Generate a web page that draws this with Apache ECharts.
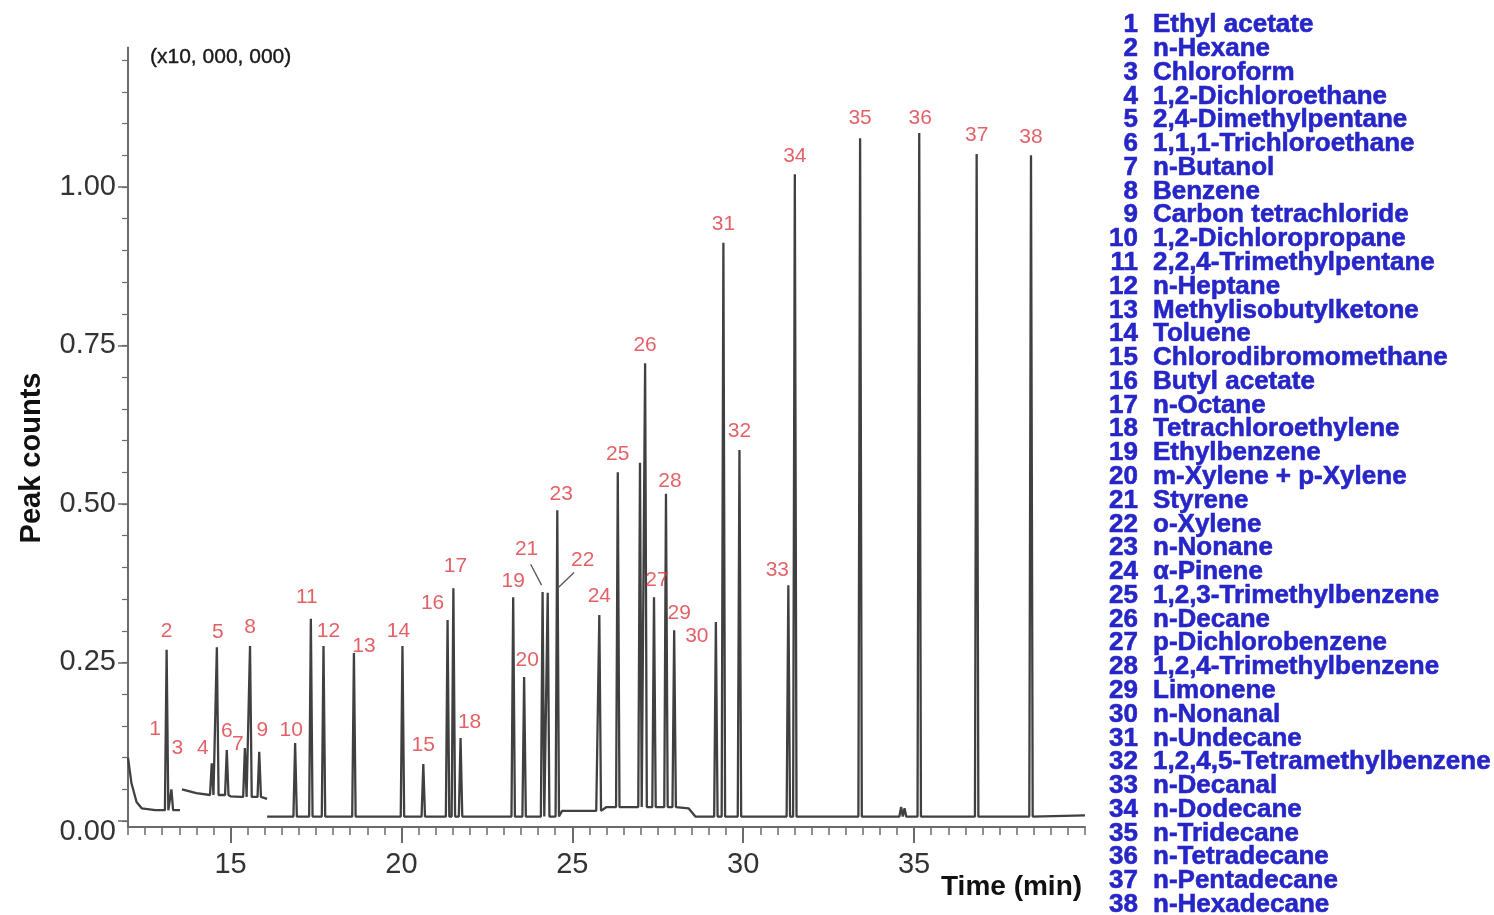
<!DOCTYPE html>
<html><head><meta charset="utf-8">
<script src="https://cdn.jsdelivr.net/npm/echarts@6/dist/echarts.min.js"></script>
<style>html,body{margin:0;padding:0;background:#fff}#c{width:1494px;height:915px}</style>
</head><body><div id="c"></div>
<script>
// ---------- DATA ----------
const compounds = ["Ethyl acetate","n-Hexane","Chloroform","1,2-Dichloroethane","2,4-Dimethylpentane","1,1,1-Trichloroethane","n-Butanol","Benzene","Carbon tetrachloride","1,2-Dichloropropane","2,2,4-Trimethylpentane","n-Heptane","Methylisobutylketone","Toluene","Chlorodibromomethane","Butyl acetate","n-Octane","Tetrachloroethylene","Ethylbenzene","m-Xylene + p-Xylene","Styrene","o-Xylene","n-Nonane","α-Pinene","1,2,3-Trimethylbenzene","n-Decane","p-Dichlorobenzene","1,2,4-Trimethylbenzene","Limonene","n-Nonanal","n-Undecane","1,2,4,5-Tetramethylbenzene","n-Decanal","n-Dodecane","n-Tridecane","n-Tetradecane","n-Pentadecane","n-Hexadecane"];
// retention time (min) and height (x10,000,000) of the numbered peaks
const peakTimes   = [12.00,13.13,13.27,14.45,14.60,14.89,15.42,15.57,15.84,16.89,17.35,17.72,18.61,20.03,20.64,21.35,21.52,21.73,23.27,23.59,24.13,24.28,24.56,25.79,26.33,27.13,27.39,27.74,27.98,29.20,29.42,29.89,31.32,31.51,33.42,35.15,36.83,38.42];
const peakHeights = [0.100,0.270,0.050,0.091,0.274,0.112,0.115,0.276,0.109,0.123,0.319,0.276,0.265,0.276,0.090,0.317,0.367,0.131,0.353,0.227,0.361,0.360,0.490,0.325,0.550,0.722,0.353,0.516,0.301,0.314,0.912,0.585,0.372,1.020,1.077,1.085,1.052,1.050];
// unnumbered peaks
const extraPeakTimes   = [26.98, 34.62, 34.72];
const extraPeakHeights = [0.565, 0.022, 0.020];
// baseline of the three trace segments
const seg1Times  = [12.00,12.10,12.25,12.40,12.80,13.00,13.52];
const seg1Values = [0.100,0.060,0.030,0.020,0.017,0.017,0.017];
const seg2Times  = [13.58,14.00,14.40,15.00,15.30,16.07];
const seg2Values = [0.050,0.044,0.041,0.039,0.038,0.035];
const seg3Times  = [16.07,24.60,24.70,25.70,26.00,28.40,28.60,40.00];
const seg3Values = [0.007,0.007,0.016,0.016,0.022,0.020,0.007,0.009];
const xTickLabels = [15,20,25,30,35];
const yTickLabels = [0,0.25,0.5,0.75,1.0];

// ---------- LAYOUT / STYLE ----------
const W = 0.05; // half width of a drawn peak, min
const labelNudge = {0:[27,-10],2:[6,-23],3:[-9,3],4:[1,3],6:[-7,15],8:[3,-3],9:[-4,6],10:[-4,-3],11:[5,4],12:[10,12],13:[-4,4],15:[-15,2],16:[2,-4],17:[9,3],18:[0,3],19:[3,2],20:[-16,-24],21:[35,-14],22:[4,2],26:[3,2],27:[4,6],28:[5,2],29:[-19,33],32:[-11,4],34:[0,-1],35:[1,4]};
const leaderLines = [[[23.78,0.405],[24.10,0.372]],[[25.05,0.392],[24.57,0.367]]];
const FONT = '"Liberation Sans", Arial, sans-serif';

const allPeaks = peakTimes.map((t,i)=>[t,peakHeights[i]]).concat(extraPeakTimes.map((t,i)=>[t,extraPeakHeights[i]]));
function buildTrace(bt, bv){
  const t0 = bt[0], t1 = bt[bt.length-1];
  const inSeg = allPeaks.filter(p => p[0] > t0 + W && p[0] < t1 - W);
  const baseAt = t => { let v = bv[0]; for (let i=0;i<bt.length;i++) if (bt[i] <= t) v = bv[i]; return v; };
  const out = [];
  bt.forEach((t,i)=>{ if (!inSeg.some(p=>Math.abs(p[0]-t) <= W)) out.push([t,bv[i]]); });
  inSeg.forEach(p=>{ const b = baseAt(p[0]); out.push([p[0]-W,b],[p[0],p[1]],[p[0]+W,b]); });
  out.sort((a,b)=>a[0]-b[0]);
  return out;
}
const traceStyle = {type:'line', showSymbol:false, symbol:'none', xAxisIndex:0, yAxisIndex:0,
  lineStyle:{color:'#404040', width:2.3}, animation:false, silent:true, z:3};

const minorX = []; for (let k=0;k<=56;k++) minorX.push(12 + k*0.5);
const minorY = []; for (let k=0;k<=24;k++) minorY.push(+(k*0.05).toFixed(2));

const legendEls = [];
compounds.forEach((name,i)=>{
  const y = 25 + i*23.78;
  legendEls.push({type:'text', x:1138, y:y, style:{text:String(i+1), font:'bold 26px '+FONT, fill:'#2626c8', stroke:'#2626c8', lineWidth:0.6, textAlign:'right', textVerticalAlign:'middle'}});
  legendEls.push({type:'text', x:1153, y:y, style:{text:name, font:'bold 26px '+FONT, fill:'#2626c8', stroke:'#2626c8', lineWidth:0.6, textAlign:'left', textVerticalAlign:'middle'}});
});

const chart = echarts.init(document.getElementById('c'), null, {renderer:'canvas'});
const axisCol = '#6b6b6b';
chart.setOption({
  animation:false,
  backgroundColor:'#ffffff',
  grid:{left:128, right:409, top:47.5, bottom:94, containLabel:false},
  xAxis:[
    {type:'value', min:12, max:40, position:'bottom', offset:6, gridIndex:0,
     axisLine:{show:true, onZero:false, lineStyle:{color:axisCol, width:2}},
     axisTick:{show:true, customValues:xTickLabels, length:16, lineStyle:{color:axisCol, width:2}},
     axisLabel:{show:true, customValues:xTickLabels, margin:23, fontSize:29, fontFamily:FONT, color:'#333'},
     splitLine:{show:false}},
    {type:'value', min:12, max:40, position:'bottom', offset:6, gridIndex:0,
     axisLine:{show:false, onZero:false},
     axisTick:{show:true, customValues:minorX, length:8, lineStyle:{color:axisCol, width:1.5}},
     axisLabel:{show:false}, splitLine:{show:false}}
  ],
  yAxis:[
    {type:'value', min:0, max:1.22, position:'left', gridIndex:0,
     axisLine:{show:true, onZero:false, lineStyle:{color:axisCol, width:2}},
     axisTick:{show:true, customValues:yTickLabels, length:10, lineStyle:{color:axisCol, width:1.5}},
     axisLabel:{show:true, customValues:yTickLabels, margin:12, fontSize:29, fontFamily:FONT, color:'#333',
       formatter:v => v === 0 ? '{z|0.00}' : v.toFixed(2), rich:{z:{padding:[22,0,0,0], fontSize:29, fontFamily:FONT, color:'#333'}}},
     splitLine:{show:false}},
    {type:'value', min:0, max:1.22, position:'left', gridIndex:0,
     axisLine:{show:false, onZero:false},
     axisTick:{show:true, customValues:minorY, length:6, lineStyle:{color:axisCol, width:1.2}},
     axisLabel:{show:false}, splitLine:{show:false}}
  ],
  series:[
    Object.assign({data:buildTrace(seg1Times, seg1Values)}, traceStyle),
    Object.assign({data:buildTrace(seg2Times, seg2Values)}, traceStyle),
    Object.assign({data:buildTrace(seg3Times, seg3Values)}, traceStyle),
    {type:'scatter', xAxisIndex:0, yAxisIndex:0, symbolSize:0, silent:true, z:5, clip:false,
     data:peakTimes.map((t,i)=>({value:[t,peakHeights[i]], label:{offset:labelNudge[i]||[0,0]}})),
     label:{show:true, position:'top', distance:8, formatter:p=>String(p.dataIndex+1), fontSize:21, fontFamily:FONT, color:'#dc3a40'},
     markLine:{silent:true, symbol:['none','none'], label:{show:false}, lineStyle:{color:'#555', width:1.3, type:'solid'},
       data:leaderLines.map(l=>[{coord:l[0]},{coord:l[1]}])}}
  ],
  graphic:[
    {type:'line', shape:{x1:128, y1:820, x2:128, y2:827}, style:{stroke:axisCol, lineWidth:2}},
    {type:'text', x:150, y:57, style:{text:'(x10, 000, 000)', font:'21px '+FONT, fill:'#1a1a1a', stroke:'#1a1a1a', lineWidth:0.4, textVerticalAlign:'middle'}},
    {type:'text', x:32, y:458, rotation:Math.PI/2, style:{text:'Peak counts', font:'bold 29px '+FONT, fill:'#111', textAlign:'center', textVerticalAlign:'middle'}},
    {type:'text', x:941, y:887, style:{text:'Time (min)', font:'bold 28px '+FONT, fill:'#111', textAlign:'left', textVerticalAlign:'middle'}}
  ].concat(legendEls)
});
</script></body></html>
